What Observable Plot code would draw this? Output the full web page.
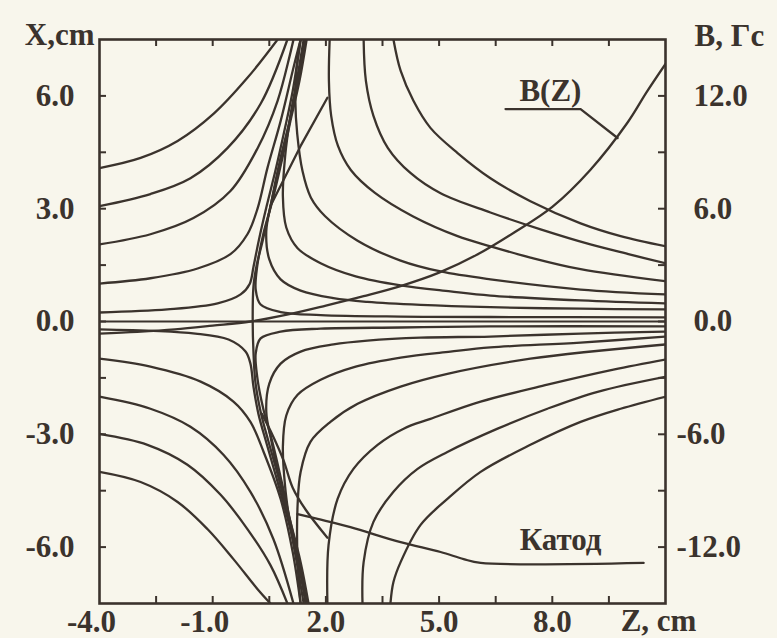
<!DOCTYPE html>
<html><head><meta charset="utf-8">
<script src="https://cdn.jsdelivr.net/npm/d3@7"></script>
<script src="https://cdn.jsdelivr.net/npm/@observablehq/plot@0.6"></script>
<style>
html,body{margin:0;padding:0;background:#f8f6ec;}
#chart svg{display:block;}
</style></head><body><div id="chart"></div>
<script>
// ---- axis ticks / labels ----
const zLabelTicks = [-4, -1, 2, 5, 8];
const xLabelTicks = [-6, -3, 0, 3, 6];
const bLabelTicks = [-12, -6, 0, 6, 12];
const zMinorTicks = [-2.5, -1, 0.5, 2, 3.5, 5, 6.5, 8, 9.5];
const xMinorTicks = [-6, -4.5, -3, -1.5, 0, 1.5, 3, 4.5, 6];

// ---- field lines [Z, X] (cm) ----
const upperLeft = [
  [[-4,4.08],[-2.91,4.35],[-1.93,4.8],[-0.98,5.52],[-0.08,6.48],[0.72,7.5]],
  [[-4,3.07],[-2.65,3.39],[-1.59,3.81],[-0.61,4.61],[0.27,5.79],[0.98,7.5]],
  [[-4,2.05],[-2.65,2.32],[-1.51,2.75],[-0.53,3.47],[0.19,4.61],[0.72,5.87],[1.14,7.5]],
  [[-4,1.01],[-2.65,1.15],[-1.40,1.41],[-0.53,1.79],[-0.08,2.32],[0.19,3.01],[0.45,4.08],[0.80,5.33],[1.14,6.75],[1.33,7.5]],
  [[-4,0.24],[-2.2,0.32],[-0.87,0.48],[-0.26,0.72],[-0.02,1.0],[0.08,1.45],[0.22,2.15],[0.43,3.07],[0.66,4.0],[0.90,5.07],[1.12,6.13],[1.33,7.5]]
];
const lowerLeft = [
  [[-4,-0.21],[-1.46,-0.32],[-0.58,-0.48],[-0.13,-0.8],[0,-1.12],[0.08,-1.73],[0.21,-2.45],[0.43,-3.25],[0.69,-4.16],[1.01,-5.33],[1.27,-6.4],[1.49,-7.5]],
  [[-4,-0.99],[-2.65,-1.2],[-1.32,-1.6],[-0.45,-2.13],[0,-2.67],[0.35,-3.47],[0.80,-4.72],[1.12,-6.13],[1.33,-7.5]],
  [[-4,-2.0],[-2.65,-2.32],[-1.59,-2.8],[-0.71,-3.55],[0,-4.53],[0.61,-5.79],[1.14,-7.5]],
  [[-4,-2.99],[-2.73,-3.28],[-1.67,-3.81],[-0.79,-4.61],[-0.08,-5.52],[0.53,-6.48],[0.98,-7.5]],
  [[-4,-4.0],[-2.91,-4.27],[-1.93,-4.8],[-1.14,-5.52],[-0.45,-6.32],[0.19,-7.12],[0.53,-7.5]]
];
const upperRight = [
  [[3.79,7.5],[3.98,6.67],[4.32,5.87],[4.77,5.15],[5.49,4.48],[6.36,3.81],[7.42,3.2],[8.75,2.61],[9.81,2.27],[11,2.0]],
  [[3.0,7.5],[3.06,6.4],[3.26,5.47],[3.64,4.62],[4.24,3.95],[5.04,3.41],[6.36,2.9],[7.69,2.45],[9.01,2.05],[10.07,1.78],[11,1.55]],
  [[2.1,7.5],[2.08,6.4],[2.14,5.47],[2.32,4.67],[2.66,4.03],[3.3,3.42],[4.3,2.8],[5.49,2.27],[6.36,2.0],[7.42,1.7],[8.75,1.39],[11,1.07]],
  [[1.33,7.5],[1.22,6.67],[1.19,5.87],[1.24,4.99],[1.38,4.0],[1.6,3.3],[1.98,2.8],[2.84,2.15],[3.98,1.62],[5.04,1.33],[6.36,1.12],[8.75,0.85],[11,0.72]],
  [[1.41,7.5],[1.25,6.53],[1.06,5.47],[0.92,4.40],[0.86,3.33],[0.95,2.5],[1.25,1.95],[1.86,1.55],[2.79,1.2],[3.98,0.96],[5.30,0.80],[6.36,0.69],[8.75,0.56],[11,0.48]],
  [[1.46,7.5],[1.27,6.4],[1.04,5.33],[0.78,4.27],[0.56,3.2],[0.42,2.4],[0.5,1.65],[0.80,1.12],[1.33,0.82],[2.20,0.62],[3.10,0.52],[4.51,0.44],[6.36,0.38],[8.75,0.34],[11,0.32]],
  [[1.49,7.5],[1.30,6.4],[1.06,5.33],[0.83,4.27],[0.58,3.2],[0.34,2.32],[0.18,1.47],[0.14,0.85],[0.27,0.45],[0.80,0.25],[1.86,0.17],[3.98,0.13],[6.36,0.12],[11,0.11]]
];
const lowerRight = [
  [[3.71,-7.5],[3.79,-6.93],[3.98,-6.4],[4.51,-5.41],[5.22,-4.72],[6.10,-4.0],[7.42,-3.28],[8.75,-2.67],[9.81,-2.32],[11,-2.0]],
  [[2.97,-7.5],[3.0,-6.4],[3.26,-5.33],[3.79,-4.53],[4.43,-3.92],[5.22,-3.47],[6.55,-2.85],[7.87,-2.32],[9.2,-1.87],[11,-1.47]],
  [[2.04,-7.5],[2.07,-5.95],[2.31,-4.72],[2.73,-3.92],[3.37,-3.28],[4.06,-2.85],[4.77,-2.59],[6.10,-2.13],[7.87,-1.68],[9.62,-1.28],[11,-1.01]],
  [[1.33,-7.5],[1.25,-6.4],[1.25,-4.88],[1.33,-4.0],[1.59,-3.2],[2.12,-2.67],[2.84,-2.19],[3.98,-1.73],[5.22,-1.39],[7.42,-0.99],[11,-0.61]],
  [[1.41,-7.5],[1.25,-6.53],[1.06,-5.47],[0.92,-4.4],[0.86,-3.33],[0.95,-2.5],[1.25,-1.95],[1.86,-1.55],[2.79,-1.2],[3.98,-0.96],[5.30,-0.8],[6.36,-0.69],[8.75,-0.56],[11,-0.4]],
  [[1.46,-7.5],[1.27,-6.4],[1.04,-5.33],[0.78,-4.27],[0.56,-3.2],[0.42,-2.4],[0.5,-1.65],[0.80,-1.12],[1.33,-0.8],[2.20,-0.61],[3.10,-0.51],[4.51,-0.43],[6.36,-0.4],[8.75,-0.32],[11,-0.27]],
  [[1.49,-7.5],[1.30,-6.4],[1.06,-5.33],[0.83,-4.27],[0.58,-3.2],[0.34,-2.32],[0.18,-1.47],[0.14,-0.85],[0.27,-0.45],[0.80,-0.27],[1.86,-0.19],[3.98,-0.16],[6.36,-0.13],[11,-0.13]]
];
const separatrix = [[1.46,7.5],[1.25,6.4],[1.04,5.33],[0.80,4.27],[0.56,3.2],[0.32,2.13],[0.16,1.47],[0.08,0.93],[0.06,0],[0.08,-0.8],[0.13,-1.6],[0.27,-2.4],[0.48,-3.2],[0.74,-4.13],[1.06,-5.33],[1.33,-6.4],[1.54,-7.5]];
const upperDiag = [[0.53,3.07],[1.33,4.67],[2.04,5.95]];
const lowerDiag = [[0.3,-2.45],[0.6,-3.05],[0.88,-3.7],[1.12,-4.42],[1.46,-5.0],[2.04,-5.75]];
const cathode = [[1.25,-5.12],[1.78,-5.25],[2.65,-5.47],[3.98,-5.87],[5.04,-6.13],[5.65,-6.32],[6.10,-6.42],[10.42,-6.42]];

// ---- B(Z), Гс (right axis) ----
const bZ = [-4, -3, -2, -1, 0, 1, 2, 3, 4, 5, 6, 7, 8, 9, 10, 10.5, 11];
const bVal = [-0.64, -0.55, -0.42, -0.22, 0, 0.38, 0.85, 1.35, 1.9, 2.6, 3.55, 4.75, 6.1, 8.05, 10.6, 12.2, 13.7];
const bLeader = [[6.76,5.65],[8.75,5.65],[9.73,4.88]];
const notes = [{z: 7.95, x: 6.13, t: "B(Z)"}, {z: 8.22, x: -5.81, t: "Катод"}];

const ink = "#3b332d";
const bToX = 7.5 / 15;
const rows = (curves, name) => curves.flatMap((c, i) => c.map(([zc, xc]) => ({id: name + i, zc, xc})));
const smoothField = [
  ...rows(upperLeft, "ul"), ...rows(lowerLeft, "ll"),
  ...rows(upperRight, "ur"), ...rows(lowerRight, "lr"),
  ...rows([separatrix], "s"), ...rows([lowerDiag], "d"),
  ...rows([cathode], "k")
];
const straight = [...rows([upperDiag], "du"), ...rows([bLeader], "bl")];
const bRows = bZ.map((z, i) => ({zc: z, xc: bVal[i] * bToX}));
const font = "Liberation Serif";
const fs = 31;
const lw = 2.3;
const txt = {fontSize: fs, fontWeight: "bold", fill: ink};
const fmt = d => d.toFixed(1);

const chart = Plot.plot({
  width: 777, height: 638,
  marginLeft: 99, marginRight: 112, marginTop: 39, marginBottom: 35,
  x: {domain: [-4, 11]},
  y: {domain: [-7.5, 7.5]},
  style: {background: "#f8f6ec", fontFamily: font, color: ink},
  marks: [
    Plot.ruleY([0], {stroke: ink, strokeWidth: 2}),
    Plot.line(smoothField, {x: "zc", y: "xc", z: "id", stroke: ink, strokeWidth: lw, curve: "catmull-rom", clip: true}),
    Plot.line(straight, {x: "zc", y: "xc", z: "id", stroke: ink, strokeWidth: lw, clip: true}),
    Plot.line(bRows, {x: "zc", y: "xc", stroke: ink, strokeWidth: lw, curve: "catmull-rom", clip: true}),
    Plot.tickX(zMinorTicks, {x: d => d, insetTop: 557, stroke: ink, strokeWidth: 2}),
    Plot.tickX(zMinorTicks, {x: d => d, insetBottom: 557, stroke: ink, strokeWidth: 2}),
    Plot.tickY(xMinorTicks, {y: d => d, insetRight: 559, stroke: ink, strokeWidth: 2}),
    Plot.tickY(xMinorTicks, {y: d => d, insetLeft: 559, stroke: ink, strokeWidth: 2}),
    Plot.frame({stroke: ink, strokeWidth: 2.6}),
    Plot.axisX({ticks: zLabelTicks.filter(d => d >= 0), tickSize: 0, tickPadding: 6, tickFormat: fmt, ...txt}),
    Plot.axisX({ticks: zLabelTicks.filter(d => d < 0), tickSize: 0, tickPadding: 6, tickFormat: fmt, dx: -8, ...txt}),
    Plot.axisY({ticks: xLabelTicks, tickSize: 0, tickPadding: 25, tickFormat: fmt, ...txt}),
    Plot.text(bLabelTicks.filter(b => b >= 0), {y: b => b * bToX, text: fmt, frameAnchor: "right", textAnchor: "start", dx: 28, ...txt}),
    Plot.text(bLabelTicks.filter(b => b < 0), {y: b => b * bToX, text: fmt, frameAnchor: "right", textAnchor: "start", dx: 11, ...txt}),
    Plot.text(["X,cm"], {frameAnchor: "top-left", lineAnchor: "middle", textAnchor: "end", dx: -5, dy: -4, ...txt}),
    Plot.text(["B, Гс"], {frameAnchor: "top-right", lineAnchor: "middle", textAnchor: "start", dx: 29, dy: -3, ...txt}),
    Plot.text(["Z, cm"], {frameAnchor: "bottom-right", lineAnchor: "middle", textAnchor: "middle", dx: -7, dy: 18, ...txt}),
    Plot.text(notes, {x: "z", y: "x", text: "t", ...txt})
  ]
});
document.getElementById("chart").append(chart);
</script></body></html>
